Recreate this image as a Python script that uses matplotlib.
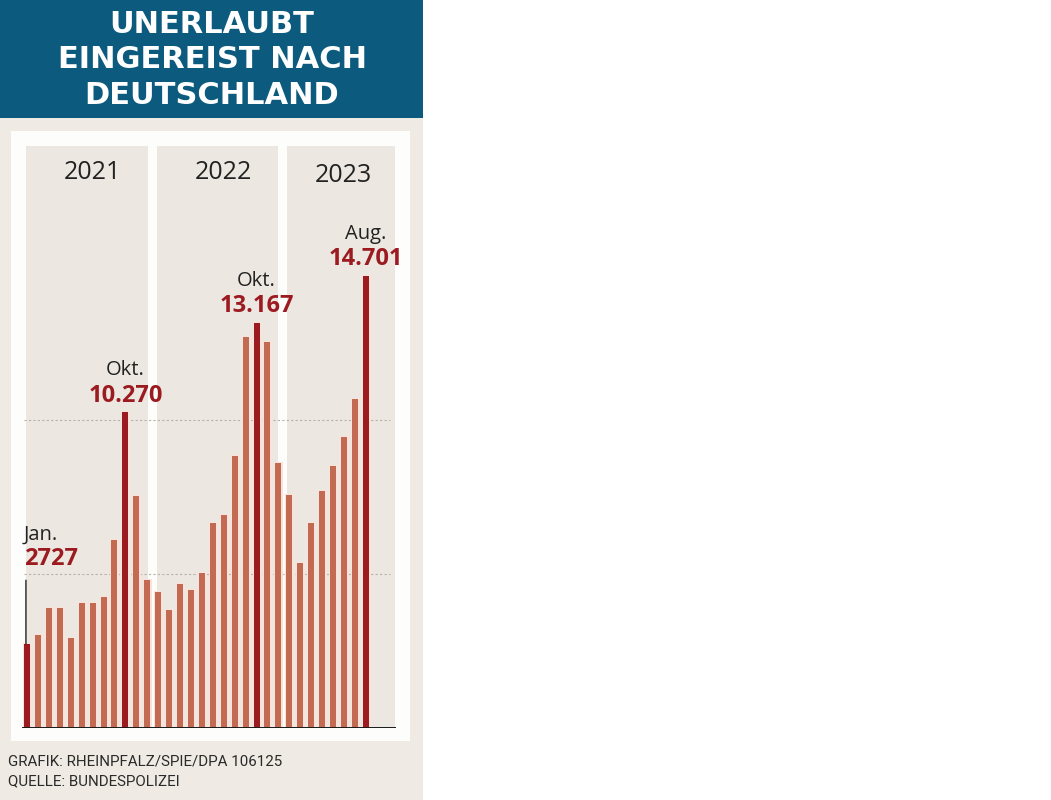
import matplotlib
matplotlib.use('Agg')
import matplotlib.pyplot as plt
from matplotlib.patches import Rectangle

# Unerlaubte Einreisen pro Monat, Jan 2021 - Aug 2023 (Bundespolizei)
years = ['2021', '2022', '2023']
months_per_year = [12, 12, 8]
values = [
    2727, 3020, 3900, 3900, 2925, 4060, 4060, 4260, 6110, 10270, 7540, 4810,   # 2021
    4420, 3835, 4680, 4485, 5040, 6670, 6920, 8840, 12710, 13167, 12540, 8620,  # 2022
    7570, 5370, 6670, 7710, 8515, 9460, 10690, 14701,                          # 2023
]
# highlighted months: (index, month label, value label)
highlights = [(9, 'Okt.', '10.270'), (21, 'Okt.', '13.167'), (31, 'Aug.', '14.701')]
first_label = ('Jan.', '2727')

title = 'UNERLAUBT\nEINGEREIST NACH\nDEUTSCHLAND'
source_lines = ['GRAFIK: RHEINPFALZ/SPIE/DPA 106125', 'QUELLE: BUNDESPOLIZEI']

W, H = 1051, 800
BLUE = '#0c5a7e'
BEIGE = '#efebe4'
PANEL = '#ece8e1'
BAR = '#c26b52'
DARK = '#9b1b21'
HALO = '#fbe2da'


def fx(px):
    return px / W


def fy(py):
    return 1 - py / H


fig = plt.figure(figsize=(W / 100, H / 100), dpi=100)
fig.patch.set_facecolor('white')

# background blocks of the infographic
fig.patches.append(Rectangle((0, fy(800)), fx(423), 1, transform=fig.transFigure,
                             facecolor=BEIGE, edgecolor='none', zorder=-10))
fig.patches.append(Rectangle((0, fy(118)), fx(423), fy(0) - fy(118), transform=fig.transFigure,
                             facecolor=BLUE, edgecolor='none', zorder=-9))
fig.patches.append(Rectangle((fx(11), fy(741)), fx(410) - fx(11), fy(131) - fy(741),
                             transform=fig.transFigure, facecolor='#fdfdfb',
                             edgecolor='none', zorder=-9))

# title
for i, line in enumerate(title.split('\n')):
    fig.text(fx(212), fy(33 + i * 35.3), line, ha='center', va='baseline', color='white',
             fontsize=22, fontweight='bold', family='DejaVu Sans')

# bar chart
ax = fig.add_axes([fx(22), fy(728), fx(396) - fx(22), fy(146) - fy(728)])
ax.set_facecolor('none')
x = list(range(len(values)))
ax.set_xlim(-0.46, 33.76)
ax.set_ylim(0, 18915)

# year panels (padding relative to first / last month of each year)
start = 0
panel_pad = [(-0.1, 0.07), (-0.1, -0.04), (-0.2, 2.67)]
label_x = [5.95, 18.0, 28.9]
label_y = [17840, 17840, 17745]
for k, (yr, n) in enumerate(zip(years, months_per_year)):
    a, b = panel_pad[k]
    x0 = start + a
    x1 = start + n - 1 + b
    ax.add_patch(Rectangle((x0, 0), x1 - x0, 1, transform=ax.get_xaxis_transform(),
                           facecolor=PANEL, edgecolor='none', zorder=0))
    ax.text(label_x[k], label_y[k], yr, ha='center', va='baseline', fontsize=18,
            family='Open Sans', color='#222222', zorder=5)
    start += n

for gy in (5000, 10000):
    ax.axhline(gy, xmin=0.005, xmax=0.985, color='#b9b2a9', lw=0.8,
               linestyle=(0, (2, 2)), zorder=1)

hl_idx = [h[0] for h in highlights] + [0]
colors = [DARK if i in hl_idx else BAR for i in x]
ax.bar(x, values, width=0.55, color=colors, edgecolor=HALO, linewidth=2.2, zorder=2)
ax.bar(x, values, width=0.55, color=colors, edgecolor='none', zorder=3)
ax.axhline(0, color='#1a1a1a', lw=1.4, zorder=4)

for idx, month, lab in highlights:
    ax.annotate(lab, xy=(idx, values[idx]), xytext=(0, 7.5), textcoords='offset points',
                ha='center', va='baseline', fontsize=17, fontweight='bold',
                family='Open Sans', color=DARK, zorder=5)
    ax.annotate(month, xy=(idx, values[idx]), xytext=(0, 26.5), textcoords='offset points',
                ha='center', va='baseline', fontsize=14.5, family='Open Sans',
                color='#222222', zorder=5)

ax.annotate(first_label[1], xy=(-0.28, values[0]), xytext=(0, 57), textcoords='offset points',
            ha='left', va='baseline', fontsize=17, fontweight='bold', family='Open Sans',
            color=DARK, zorder=5)
ax.annotate(first_label[0], xy=(-0.28, values[0]), xytext=(0, 75.5), textcoords='offset points',
            ha='left', va='baseline', fontsize=14.5, family='Open Sans', color='#222222',
            zorder=5)
ax.annotate('', xy=(-0.1, values[0]), xytext=(0, 46), textcoords='offset points',
            arrowprops=dict(arrowstyle='-', lw=1, color='#222222', shrinkA=0, shrinkB=0),
            zorder=5)

ax.axis('off')

# footer
for i, line in enumerate(source_lines):
    fig.text(fx(8), fy(765 + i * 20), line, ha='left', va='baseline', fontsize=10.9,
             family='Roboto', color='#2a2a2a')

fig.savefig('out.png', dpi=100, facecolor=fig.get_facecolor())
